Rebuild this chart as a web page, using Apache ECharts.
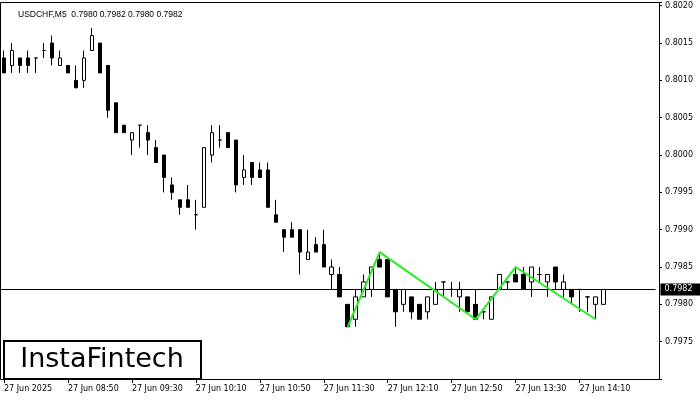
<!DOCTYPE html>
<html><head><meta charset="utf-8">
<script src="https://cdn.jsdelivr.net/npm/echarts@6/dist/echarts.min.js"></script>
<style>html,body{margin:0;padding:0;background:#fff}#c{width:700px;height:400px}</style>
</head><body><div id="c"></div>
<script>
const chartTitle = 'USDCHF,M5  0.7980 0.7982 0.7980 0.7982';
const startMinutes = 8 * 60 + 10; // first bar 08:10, M5 bars
const barMinutes = 5;
const emptySlots = 6; // empty space right of the last bar

const opens = [0.8013,0.8012,0.8013,0.8013,0.8013,0.8014,0.8015,0.8012,0.8012,0.8010,
0.8010,0.8014,0.8015,0.8012,0.8007,0.8004,0.8002,0.8004,0.8003,0.8001,
0.8000,0.7996,0.7994,0.7994,0.7992,0.7993,0.8000,0.8002,0.8003,0.8002,
0.7997,0.7999,0.7998,0.7998,0.7992,0.7990,0.7990,0.7990,0.7986,0.7988,
0.7988,0.7984,0.7984,0.7980,0.7978,0.7981,0.7982,0.7986,0.7986,0.7982,
0.7980,0.7981,0.7980,0.7979,0.7980,0.7983,0.7982,0.7981,0.7981,0.7980,
0.7979,0.7978,0.7982,0.7983,0.7984,0.7984,0.7983,0.7984,0.7983,0.7985,
0.7982,0.7982,0.7982,0.7981,0.7980,0.7980];
const highs = [0.8014,0.8015,0.8013,0.8014,0.8013,0.8015,0.8016,0.8014,0.8012,0.8012,
0.8014,0.8017,0.8015,0.8012,0.8007,0.8004,0.8003,0.8004,0.8004,0.8002,
0.8000,0.7997,0.7994,0.7996,0.7994,0.8001,0.8004,0.8004,0.8003,0.8002,
0.8000,0.7999,0.7999,0.7999,0.7994,0.7990,0.7991,0.7990,0.7990,0.7989,
0.7990,0.7986,0.7985,0.7980,0.7982,0.7984,0.7985,0.7987,0.7986,0.7982,
0.7982,0.7981,0.7980,0.7981,0.7983,0.7983,0.7983,0.7983,0.7981,0.7982,
0.7979,0.7981,0.7984,0.7983,0.7985,0.7985,0.7985,0.7985,0.7984,0.7985,
0.7984,0.7982,0.7982,0.7981,0.7981,0.7982];
const lows = [0.8011,0.8011,0.8011,0.8011,0.8011,0.8013,0.8012,0.8012,0.8011,0.8009,
0.8009,0.8014,0.8011,0.8005,0.8003,0.8003,0.8000,0.8001,0.8000,0.7999,
0.7995,0.7994,0.7992,0.7993,0.7990,0.7993,0.7999,0.8001,0.8001,0.7995,
0.7996,0.7996,0.7997,0.7993,0.7991,0.7987,0.7989,0.7984,0.7986,0.7987,
0.7985,0.7982,0.7981,0.7977,0.7977,0.7981,0.7981,0.7985,0.7981,0.7977,
0.7979,0.7978,0.7978,0.7978,0.7980,0.7981,0.7981,0.7979,0.7979,0.7978,
0.7978,0.7978,0.7982,0.7982,0.7983,0.7982,0.7981,0.7983,0.7981,0.7982,
0.7981,0.7980,0.7979,0.7979,0.7978,0.7980];
const closes = [0.8011,0.8014,0.8012,0.8012,0.8013,0.8014,0.8013,0.8013,0.8011,0.8009,
0.8013,0.8016,0.8011,0.8006,0.8003,0.8003,0.8003,0.8004,0.8002,0.7999,
0.7997,0.7995,0.7993,0.7993,0.7992,0.8001,0.8003,0.8002,0.8001,0.7996,
0.7998,0.7997,0.7997,0.7993,0.7991,0.7989,0.7989,0.7987,0.7987,0.7987,
0.7985,0.7985,0.7981,0.7977,0.7981,0.7983,0.7985,0.7985,0.7981,0.7979,
0.7982,0.7979,0.7978,0.7981,0.7982,0.7983,0.7982,0.7982,0.7979,0.7978,
0.7979,0.7981,0.7984,0.7983,0.7983,0.7982,0.7985,0.7984,0.7984,0.7983,
0.7983,0.7981,0.7982,0.7981,0.7981,0.7982];

// pattern line vertices: [bar index, price]
const patternBars = [43, 47, 59, 64, 74];
const patternPrices = [0.7977, 0.7987, 0.7978, 0.7985, 0.7978];

const xTickLabels = ['27 Jun 2025','27 Jun 08:50','27 Jun 09:30','27 Jun 10:10','27 Jun 10:50',
'27 Jun 11:30','27 Jun 12:10','27 Jun 12:50','27 Jun 13:30','27 Jun 14:10'];
const xTickEvery = 8;
const yTickLabels = ['0.7975','0.7980','0.7985','0.7990','0.7995','0.8000','0.8005','0.8010','0.8015','0.8020'];

const pad = n => (n < 10 ? '0' : '') + n;
const categories = [];
for (let i = 0; i < opens.length + emptySlots; i++) {
  const m = startMinutes + i * barMinutes;
  categories.push(pad(Math.floor(m / 60)) + ':' + pad(m % 60));
}
const candleData = opens.map((o, i) => [o, closes[i], lows[i], highs[i]]);
const patternData = patternBars.map((b, i) => [b, patternPrices[i]]);
const lastClose = closes[closes.length - 1];

const FONT = 'DejaVu Sans';
const chart = echarts.init(document.getElementById('c'), null, {renderer: 'canvas'});
chart.setOption({
  animation: false,
  backgroundColor: '#fff',
  title: {
    text: chartTitle, left: 13, top: 5,
    textStyle: {fontFamily: 'Liberation Sans', fontSize: 8.5, fontWeight: 'normal', color: '#000'}
  },
  grid: {left: -0.5, right: 44.5, top: 2, bottom: 21, containLabel: false},
  xAxis: {
    type: 'category', data: categories, boundaryGap: true,
    axisLine: {show: false},
    axisTick: {show: true, alignWithLabel: true, length: 4, lineStyle: {color: '#000'},
      interval: (idx) => idx % xTickEvery === 0 && idx / xTickEvery < xTickLabels.length},
    axisLabel: {
      interval: (idx) => idx % xTickEvery === 0 && idx / xTickEvery < xTickLabels.length,
      formatter: (v, idx) => xTickLabels[idx / xTickEvery] || '',
      align: 'left', margin: 6, color: '#000', fontFamily: FONT, fontSize: 8
    },
    splitLine: {show: false}
  },
  yAxis: {
    type: 'value', position: 'right', offset: 3.5, scale: true,
    min: 0.7970, max: 0.80205, interval: 0.0005,
    axisLine: {show: false},
    axisTick: {show: true, inside: false, length: 3, lineStyle: {color: '#000'}},
    axisLabel: {
      margin: 6, color: '#000', fontFamily: FONT, fontSize: 8,
      formatter: v => { const s = v.toFixed(4); return yTickLabels.indexOf(s) >= 0 ? s : ''; }
    },
    splitLine: {show: false}
  },
  series: [
    {
      type: 'candlestick', data: candleData, barWidth: 4,
      itemStyle: {color: '#fff', color0: '#000', borderColor: '#000', borderColor0: '#000', borderWidth: 1}
    },
    {
      type: 'line', data: patternData, symbol: 'none', z: 5,
      lineStyle: {color: '#22ee22', width: 2},
      markLine: {
        silent: true, symbol: ['none', 'none'], animation: false, precision: 4,
        lineStyle: {color: '#000', width: 1, type: 'solid'},
        label: {
          position: 'end', formatter: lastClose.toFixed(4), color: '#fff', backgroundColor: '#000',
          padding: [2, 8, 2, 4], fontFamily: FONT, fontSize: 8, distance: 5
        },
        data: [{yAxis: lastClose}]
      }
    }
  ],
  graphic: [
    {type: 'rect', silent: true, z: 100,
      shape: {x: 0.5, y: 2.5, width: 659, height: 377},
      style: {fill: null, stroke: '#000', lineWidth: 1}},
    {type: 'rect', silent: true, z: 101,
      shape: {x: 4, y: 341, width: 197, height: 38},
      style: {fill: '#fff', stroke: '#000', lineWidth: 2}},
    {type: 'text', silent: true, z: 102, x: 102, y: 360,
      style: {text: 'InstaFintech', fill: '#000', font: '500 27px "DejaVu Sans"', align: 'center', verticalAlign: 'middle'}}
  ]
});
</script></body></html>
